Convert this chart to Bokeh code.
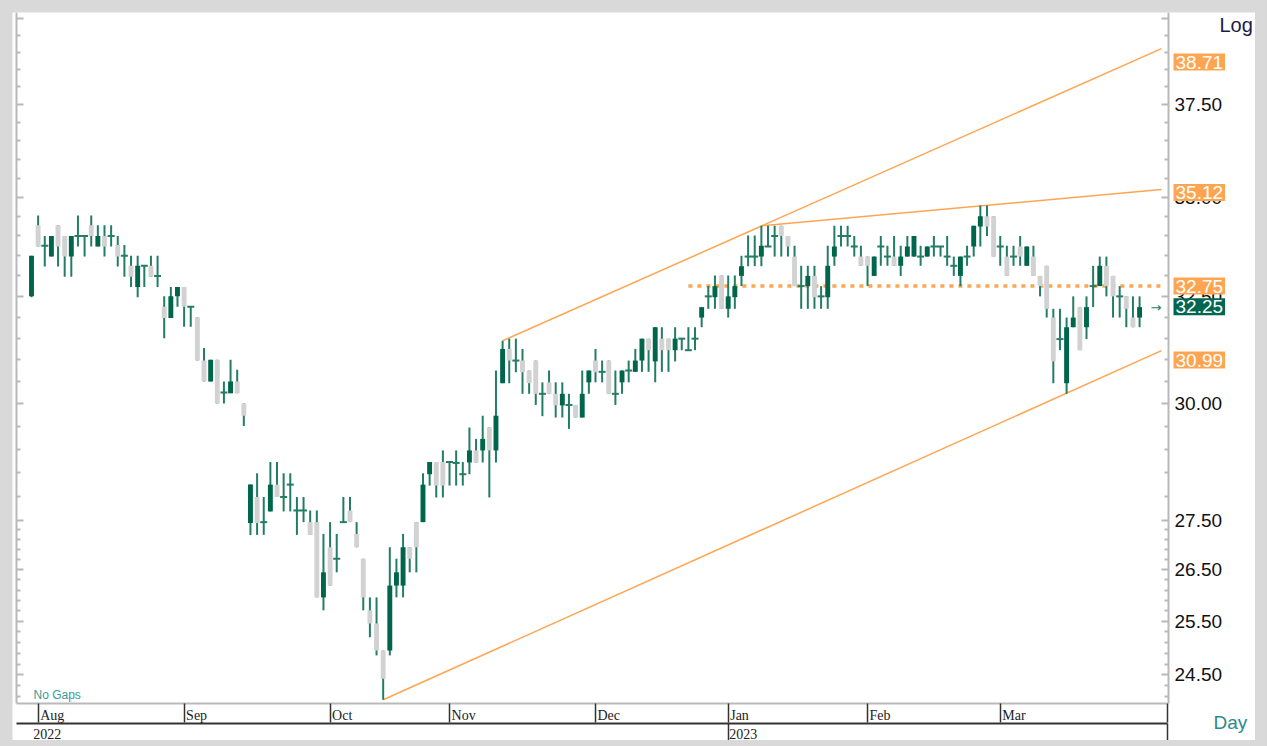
import numpy as np
from bokeh.plotting import figure
from bokeh.models import (Range1d, LogAxis, LinearAxis, FixedTicker, PrintfTickFormatter,
                          ColumnDataSource, Label, LabelSet, CustomJSTickFormatter)
from bokeh.layouts import column
from bokeh.embed import file_html
from bokeh.resources import INLINE
from bokeh.core.properties import value

# ---------------- data (daily candles, trading-day index) ----------------
opens = [
    32.50, 34.27, 33.75, 33.48, 34.27, 34.00, 33.48, 34.00, 34.00, 34.27,
    33.73, 34.00, 34.00, 33.77, 33.50, 33.25, 32.73, 33.25, 33.25, 33.00,
    32.25, 31.98, 32.50, 32.73, 32.25, 32.00, 30.98, 30.50, 31.00, 30.25,
    30.23, 30.50, 30.00, 27.44, 27.98, 27.46, 27.68, 28.24, 27.98, 28.24,
    27.70, 27.70, 27.46, 27.46, 25.96, 26.95, 26.72, 27.46, 27.70, 27.22,
    26.72, 25.71, 25.46, 24.95, 24.95, 26.19, 26.19, 26.95, 27.46, 27.46,
    28.46, 28.72, 28.72, 28.72, 28.70, 28.46, 28.71, 28.97, 28.97, 29.47,
    28.97, 30.46, 31.25, 30.98, 30.98, 30.75, 30.98, 30.22, 30.48, 30.22,
    29.96, 29.97, 29.97, 29.69, 30.48, 30.98, 30.72, 30.98, 30.22, 30.48,
    30.75, 30.72, 30.98, 31.49, 30.96, 31.49, 31.49, 31.22, 31.49, 31.22,
    31.49, 31.99, 32.50, 32.48, 33.01, 32.20, 32.48, 33.00, 33.48, 33.48,
    33.48, 33.73, 34.00, 34.26, 34.00, 33.48, 32.75, 32.75, 33.00, 32.50,
    32.48, 33.48, 34.00, 34.00, 33.73, 33.48, 33.48, 33.00, 33.73, 33.48,
    33.48, 33.25, 33.48, 33.48, 33.48, 33.48, 33.73, 33.73, 33.48, 33.25,
    33.00, 33.48, 33.73, 34.24, 34.50, 34.50, 33.73, 33.48, 33.48, 33.73,
    33.25, 33.48, 33.00, 33.25, 31.99, 31.48, 30.46, 31.76, 32.24, 31.76,
    32.75, 32.75, 33.25, 33.00, 32.50, 32.50, 31.99, 31.99]
highs = [
    33.50, 34.52, 34.00, 34.00, 34.27, 34.00, 34.00, 34.52, 34.00, 34.52,
    34.27, 34.27, 34.27, 34.00, 33.77, 33.50, 33.50, 33.25, 33.50, 33.50,
    32.50, 32.73, 32.73, 32.73, 32.25, 32.00, 31.27, 31.00, 31.00, 30.50,
    31.00, 30.77, 30.00, 28.24, 28.48, 27.98, 28.72, 28.72, 28.48, 28.48,
    27.98, 27.98, 27.70, 27.70, 27.22, 27.46, 27.22, 27.98, 27.98, 27.46,
    26.72, 25.96, 25.96, 24.95, 26.95, 26.72, 27.22, 26.95, 27.46, 28.48,
    28.72, 28.72, 28.97, 28.72, 28.97, 28.72, 29.47, 29.22, 29.73, 29.47,
    30.75, 31.44, 31.49, 31.49, 31.25, 30.75, 30.98, 30.48, 30.75, 30.48,
    30.48, 30.22, 29.97, 30.75, 30.75, 31.25, 30.98, 30.98, 30.75, 30.75,
    30.98, 31.25, 31.49, 31.49, 31.76, 31.76, 31.49, 31.76, 31.49, 31.76,
    31.76, 32.24, 32.75, 33.01, 33.01, 33.01, 33.01, 33.50, 34.01, 34.01,
    34.26, 34.26, 34.26, 34.26, 34.00, 33.75, 33.25, 33.25, 33.25, 32.75,
    33.75, 34.26, 34.26, 34.26, 34.00, 33.75, 33.48, 33.48, 34.00, 33.75,
    34.00, 33.75, 34.00, 34.00, 33.75, 33.73, 34.00, 33.73, 34.00, 33.48,
    33.48, 33.75, 34.26, 34.78, 34.78, 34.50, 34.00, 33.75, 33.75, 34.00,
    33.73, 33.75, 33.00, 33.25, 32.20, 32.20, 31.99, 32.50, 32.24, 32.50,
    33.25, 33.48, 33.48, 33.00, 32.75, 32.50, 32.50, 32.50]
lows = [
    32.48, 33.73, 33.23, 33.48, 33.23, 32.98, 32.98, 33.73, 33.48, 33.73,
    33.73, 33.48, 33.73, 33.23, 32.98, 32.73, 32.48, 32.73, 32.98, 32.73,
    31.50, 31.98, 32.25, 31.77, 31.77, 30.98, 30.50, 30.50, 30.00, 30.00,
    30.23, 30.23, 29.50, 27.20, 27.20, 27.20, 27.68, 27.98, 27.68, 27.68,
    27.20, 27.46, 27.20, 25.96, 25.71, 26.19, 26.45, 27.46, 27.46, 26.95,
    25.71, 25.20, 24.86, 24.05, 24.86, 25.96, 25.96, 26.45, 26.45, 27.46,
    28.22, 27.97, 27.97, 28.22, 28.22, 28.22, 28.46, 28.71, 28.71, 27.97,
    28.71, 30.46, 30.46, 30.71, 30.22, 30.22, 29.97, 29.72, 30.22, 29.69,
    29.69, 29.44, 29.69, 29.69, 30.22, 30.48, 30.48, 30.22, 29.97, 30.22,
    30.48, 30.72, 30.72, 30.72, 30.48, 30.72, 30.72, 30.96, 31.22, 31.22,
    31.22, 31.76, 32.20, 32.20, 32.20, 31.99, 32.20, 32.75, 33.24, 33.24,
    33.24, 33.73, 33.48, 33.48, 33.48, 32.75, 32.20, 32.20, 32.20, 32.20,
    32.20, 33.25, 33.73, 33.73, 33.48, 33.25, 32.75, 33.00, 33.25, 33.25,
    33.25, 33.00, 33.48, 33.48, 33.25, 33.48, 33.48, 33.48, 33.25, 33.00,
    32.75, 33.25, 33.48, 33.73, 34.00, 33.48, 33.25, 33.00, 33.25, 33.25,
    33.25, 33.00, 32.50, 31.99, 30.46, 31.22, 30.22, 31.76, 31.22, 31.48,
    32.24, 32.75, 32.50, 31.99, 31.99, 31.76, 31.76, 31.76]
closes = [
    33.50, 33.73, 33.75, 34.00, 33.73, 33.48, 34.00, 34.00, 34.00, 34.00,
    34.00, 33.73, 34.00, 33.48, 33.50, 32.98, 33.25, 33.25, 32.98, 33.00,
    31.98, 32.50, 32.73, 32.25, 32.25, 30.98, 30.50, 31.00, 30.00, 30.25,
    30.50, 30.23, 29.73, 28.24, 27.44, 27.46, 28.24, 27.98, 27.98, 28.24,
    27.70, 27.70, 27.20, 25.96, 26.45, 26.19, 26.72, 27.46, 27.46, 26.95,
    25.96, 25.46, 24.95, 24.43, 26.19, 26.45, 26.95, 26.72, 26.95, 28.24,
    28.72, 28.22, 28.22, 28.72, 28.70, 28.46, 28.97, 28.71, 29.22, 28.97,
    29.73, 31.25, 30.98, 30.98, 30.71, 30.46, 30.22, 30.22, 30.22, 29.96,
    30.22, 29.97, 29.69, 30.22, 30.75, 30.71, 30.72, 30.22, 30.22, 30.75,
    30.75, 30.98, 31.49, 31.22, 31.76, 31.22, 31.22, 31.49, 31.49, 31.22,
    31.49, 32.24, 32.50, 32.75, 32.20, 32.50, 32.75, 33.24, 33.48, 33.48,
    33.75, 33.73, 34.00, 34.00, 33.73, 32.75, 32.75, 33.00, 32.48, 32.50,
    33.25, 33.73, 34.00, 34.00, 33.73, 33.25, 33.25, 33.48, 33.73, 33.48,
    33.25, 33.48, 33.73, 34.00, 33.48, 33.73, 33.73, 33.73, 33.48, 33.25,
    33.48, 33.48, 34.26, 34.50, 34.24, 33.48, 33.73, 33.00, 33.48, 33.48,
    33.73, 33.00, 32.75, 32.20, 30.96, 31.48, 31.76, 31.99, 31.22, 32.24,
    32.75, 33.25, 32.75, 32.50, 32.50, 32.20, 31.76, 32.24]

# month start positions (trading-day index) and labels
month_idx = [1, 23, 45, 63, 85, 105, 126, 146]
month_names = ["Aug", "Sep", "Oct", "Nov", "Dec", "Jan", "Feb", "Mar"]
year_idx = [1, 105]
year_names = ["2022", "2023"]

# trend lines (index, price)
chan_low_x = [53, 170.3]
chan_low_y = [24.05, 31.21]
chan_high_x = [71, 170.3]
chan_high_y = [31.44, 39.10]
res_x = [110, 170.3]
res_y = [34.26, 35.20]
level_x = [99, 170.3]
level_y = [32.75, 32.75]

# right-axis value tags
tag_values = [38.71, 35.12, 32.75, 30.99]
last_value = 32.25

major_ticks = [24.5, 25.5, 26.5, 27.5, 30.0, 32.5, 35.0, 37.5]
minor_ticks = ([round(24.1 + 0.2 * k, 2) for k in range(17)] +
               [round(28.0 + 0.5 * k, 2) for k in range(24)])
minor_ticks = [t for t in minor_ticks if t not in major_ticks]

# ---------------- layout constants (plot geometry, not data) ----------------
X_LEFT, X_RIGHT = -2.864, 184.47        # whole canvas in index units
Y_BOT, Y_TOP = 23.33, 40.17             # whole canvas in price units (log)
AX_LEFT, AX_RIGHT = -2.26, 171.36       # price-panel edges
AX_END = 171.2                          # date-axis end tick
P_BOTTOM = 23.98                        # price-panel bottom
ROW2 = 23.63                            # second date row line

UP = "#00664B"
DOWN = "#D2D2D2"
WICK = "#237D64"
ORANGE = "#FFA552"
AXIS_GRAY = "#b9b9b9"

idx = np.arange(len(closes))
o = np.array(opens); h = np.array(highs); l = np.array(lows); c = np.array(closes)
doji = np.abs(o - c) < 0.03
body_top = np.maximum(o, c)
body_bot = np.minimum(o, c)
colors = np.where(c > o, UP, DOWN)

p = figure(width=1243, height=728,
           x_range=Range1d(X_LEFT, X_RIGHT), y_range=Range1d(Y_BOT, Y_TOP),
           y_axis_type="log", y_axis_location=None, x_axis_location=None,
           output_backend="svg", toolbar_location=None, min_border=0)
p.outline_line_color = None
p.background_fill_color = "white"
p.border_fill_color = "white"
p.grid.grid_line_color = None
p.grid.visible = False

def price_axis(loc, labels):
    ax = LogAxis(ticker=FixedTicker(ticks=[40.0] + major_ticks, minor_ticks=minor_ticks),
                 fixed_location=loc, bounds=(P_BOTTOM, Y_TOP),
                 major_tick_in=7, major_tick_out=0,
                 minor_tick_in=4, minor_tick_out=0,
                 axis_line_color=AXIS_GRAY, axis_line_width=2,
                 major_tick_line_color=AXIS_GRAY, minor_tick_line_color=AXIS_GRAY,
                 major_tick_line_width=2, minor_tick_line_width=2)
    if labels:
        ax.formatter = PrintfTickFormatter(format="%.2f")
        ax.major_label_overrides = {40.0: ""}
        ax.major_label_text_font = "Liberation Sans"
        ax.major_label_text_font_size = "19px"
        ax.major_label_text_color = "#111111"
        ax.major_label_standoff = 6
    else:
        ax.formatter = CustomJSTickFormatter(code="return ''")
        ax.major_label_text_font_size = "1px"
    return ax

p.add_layout(price_axis(AX_LEFT, False), "left")
p.add_layout(price_axis(AX_RIGHT, True), "right")

# date rows
ax1 = LinearAxis(ticker=FixedTicker(ticks=month_idx + [AX_END]), fixed_location=P_BOTTOM,
                 bounds=(AX_LEFT, AX_RIGHT),
                 formatter=CustomJSTickFormatter(code="return ''"),
                 major_label_text_font_size="1px",
                 major_tick_in=0, major_tick_out=19, minor_tick_in=0, minor_tick_out=0,
                 axis_line_color=AXIS_GRAY, axis_line_width=2,
                 major_tick_line_color="#333333", major_tick_line_width=1.5)
ax2 = LinearAxis(ticker=FixedTicker(ticks=[year_idx[1], AX_END]), fixed_location=ROW2,
                 bounds=(AX_LEFT, AX_END),
                 formatter=CustomJSTickFormatter(code="return ''"),
                 major_label_text_font_size="1px",
                 major_tick_in=0, major_tick_out=18, minor_tick_in=0, minor_tick_out=0,
                 axis_line_color="#333333", axis_line_width=2,
                 major_tick_line_color="#333333", major_tick_line_width=1.5)
p.add_layout(ax1, "below")
p.add_layout(ax2, "below")

# trend lines
p.line(chan_low_x, chan_low_y, line_color=ORANGE, line_width=1.5)
p.line(chan_high_x, chan_high_y, line_color=ORANGE, line_width=1.5)
p.line(res_x, res_y, line_color=ORANGE, line_width=1.5)
p.line(level_x, level_y, line_color=ORANGE, line_width=3.5, line_dash="4 5")

# candles
src = ColumnDataSource(dict(x=idx, l=l, h=h))
p.segment(x0="x", y0="l", x1="x", y1="h", source=src, line_color=WICK, line_width=2)
bsrc = ColumnDataSource(dict(x=idx[~doji], top=body_top[~doji], bot=body_bot[~doji], col=colors[~doji]))
p.vbar(x="x", width=0.74, top="top", bottom="bot", source=bsrc, fill_color="col", line_color=None)
dsrc = ColumnDataSource(dict(x=idx[doji], y=c[doji]))
p.scatter(x="x", y="y", source=dsrc, marker="dash", size=7, line_color=WICK, line_width=2)

# last price arrow
p.add_layout(Label(x=int(idx[-1]), y=closes[-1], text="→", x_offset=11, text_baseline="middle",
                   text_color=WICK, text_font_size="13px", text_font="DejaVu Sans"))

# value tags on the right axis
for v in tag_values:
    p.add_layout(Label(x=1161, x_units="screen", y=v, y_units="data", text=f"{v:.2f}",
                       text_color="white", background_fill_color=ORANGE, text_align="left",
                       text_baseline="middle", text_font="Liberation Sans", text_font_size="19px",
                       padding=2))
p.add_layout(Label(x=1161, x_units="screen", y=last_value, y_units="data", text=f"{last_value:.2f}",
                   text_color="white", background_fill_color="#00664F", text_align="left",
                   text_baseline="middle", text_font="Liberation Sans", text_font_size="19px",
                   padding=2))

# corner texts
p.add_layout(Label(x=1207, y=716, x_units="screen", y_units="screen", text="Log",
                   text_font="Liberation Sans", text_font_size="20px", text_color="#1c1c48",
                   text_baseline="middle"))
p.add_layout(Label(x=1201, y=18, x_units="screen", y_units="screen", text="Day",
                   text_font="Liberation Sans", text_font_size="19px", text_color="#2a8a8a",
                   text_baseline="middle"))
p.add_layout(Label(x=21, y=46, x_units="screen", y_units="screen", text="No  Gaps",
                   text_font="Liberation Sans", text_font_size="12px", text_color="#3a9a9a",
                   text_baseline="middle"))

# month / year labels
msrc = ColumnDataSource(dict(x=month_idx, y=[25] * len(month_idx), t=month_names))
p.add_layout(LabelSet(x="x", y="y", text="t", source=msrc, x_units="data", y_units="screen",
                      x_offset=2, text_baseline="middle", text_font=value("Liberation Sans Narrow"),
                      text_font_size="14px", text_color="#222222"))
ysrc = ColumnDataSource(dict(x=year_idx, y=[7] * len(year_idx), t=year_names, dx=[-5, 1]))
p.add_layout(LabelSet(x="x", y="y", text="t", source=ysrc, x_units="data", y_units="screen",
                      x_offset="dx", text_baseline="middle", text_font=value("Liberation Sans Narrow"),
                      text_font_size="14px", text_color="#222222"))

layout = column(p, styles={"background-color": "#d9d9d9", "padding": "12px"})
open("out.html", "w").write(file_html(layout, INLINE))
